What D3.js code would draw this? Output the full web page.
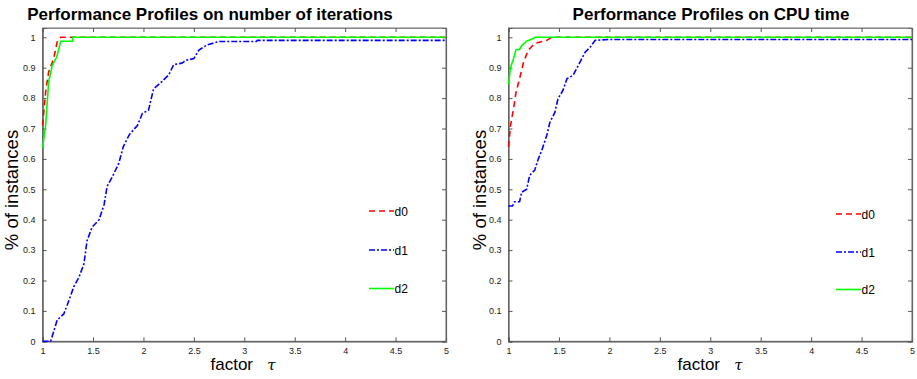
<!DOCTYPE html>
<html><head><meta charset="utf-8">
<script src="https://cdn.jsdelivr.net/npm/d3@7"></script>
<style>body{margin:0;background:#fff}svg{display:block}</style>
</head><body>
<svg id="c" width="917" height="379"></svg>
<script>
const titles = ["Performance Profiles on number of iterations", "Performance Profiles on CPU time"];
const seriesNames = ["d0", "d1", "d2"];
const seriesColors = ["#ff0000", "#0000ff", "#00ff00"];
const xTicks = [1, 1.5, 2, 2.5, 3, 3.5, 4, 4.5, 5];
const yTicks = [0, 0.1, 0.2, 0.3, 0.4, 0.5, 0.6, 0.7, 0.8, 0.9, 1];

// Left panel (iterations)
const iterD0 = [[1,0.71],[1.03,0.82],[1.06,0.886],[1.11,0.93],[1.145,0.985],[1.18,1.0],[5,1.0]];
const iterD1 = [[1,0],[1.08,0],[1.145,0.07],[1.21,0.09],[1.245,0.12],[1.31,0.18],[1.36,0.21],[1.41,0.255],[1.44,0.33],[1.49,0.375],[1.56,0.40],[1.61,0.45],[1.64,0.51],[1.69,0.54],[1.755,0.585],[1.80,0.64],[1.86,0.68],[1.94,0.71],[1.99,0.75],[2.05,0.76],[2.10,0.83],[2.185,0.855],[2.25,0.876],[2.30,0.91],[2.38,0.915],[2.43,0.925],[2.50,0.93],[2.55,0.958],[2.63,0.975],[2.75,0.986],[3.12,0.986],[3.13,0.99],[5,0.99]];
const iterD2 = [[1,0.635],[1.03,0.71],[1.06,0.853],[1.096,0.908],[1.14,0.935],[1.18,0.987],[1.30,0.987],[1.30,1.0],[5,1.0]];

// Right panel (CPU time)
const cpuD0 = [[1,0.64],[1.02,0.71],[1.05,0.765],[1.075,0.82],[1.11,0.864],[1.15,0.919],[1.195,0.957],[1.26,0.98],[1.38,0.99],[1.43,1.0],[5,1.0]];
const cpuD1 = [[1,0.445],[1.04,0.445],[1.06,0.459],[1.11,0.459],[1.13,0.49],[1.18,0.50],[1.21,0.546],[1.26,0.563],[1.29,0.595],[1.33,0.628],[1.38,0.678],[1.41,0.72],[1.46,0.753],[1.49,0.797],[1.54,0.826],[1.58,0.864],[1.64,0.875],[1.71,0.919],[1.76,0.951],[1.81,0.968],[1.86,0.99],[2.0,0.993],[5,0.993]];
const cpuD2 = [[1,0.845],[1.02,0.90],[1.05,0.93],[1.075,0.96],[1.11,0.96],[1.13,0.972],[1.18,0.987],[1.245,0.996],[1.26,1.0],[5,1.0]];

const panels = [
  {title: titles[0], series: [iterD0, iterD1, iterD2], x0: 42.6, x1: 446, legX: 369, legY: [211, 250, 288.5], titleX: 210, xlabX: 243, ylabX: 12},
  {title: titles[1], series: [cpuD0, cpuD1, cpuD2], x0: 508.5, x1: 912, legX: 836, legY: [214, 252, 289.5], titleX: 711, xlabX: 710, ylabX: 480}
];
const dashes = ["6,4", "6,2,2,2", null];

const svg = d3.select("#c");
const yTop = 28, yBottom = 341.3, y1px = 37.3;

panels.forEach(p => {
  const x = d3.scaleLinear().domain([1, 5]).range([p.x0, p.x1]);
  const yMax = 1 + (y1px - yTop) / (yBottom - y1px);
  const y = d3.scaleLinear().domain([0, yMax]).range([yBottom, yTop]);
  const g = svg.append("g");

  g.append("rect").attr("x", p.x0).attr("y", yTop).attr("width", p.x1 - p.x0).attr("height", yBottom - yTop)
    .attr("fill", "none").attr("stroke", "#777").attr("stroke-width", 1);

  const xb = g.append("g").attr("transform", `translate(0,${yBottom})`)
    .call(d3.axisBottom(x).tickValues(xTicks).tickSize(-4).tickPadding(6).tickFormat(d3.format("")));
  const xt = g.append("g").attr("transform", `translate(0,${yTop})`)
    .call(d3.axisTop(x).tickValues(xTicks).tickSize(-4).tickFormat(""));
  const yl = g.append("g").attr("transform", `translate(${p.x0},0)`)
    .call(d3.axisLeft(y).tickValues(yTicks).tickSize(-4).tickPadding(7).tickFormat(d3.format("")));
  const yr = g.append("g").attr("transform", `translate(${p.x1},0)`)
    .call(d3.axisRight(y).tickValues(yTicks).tickSize(-4).tickFormat(""));
  [xb, xt, yl, yr].forEach(a => {
    a.select(".domain").attr("stroke", "#555").attr("stroke-width", 1.2);
    a.selectAll(".tick line").attr("stroke", "#555");
    a.selectAll("text").attr("font-family", "Liberation Sans, Arial, sans-serif").attr("font-size", 9).attr("fill", "#222");
  });
  xt.select(".domain").attr("stroke", "#888");
  yr.select(".domain").attr("stroke", "#666");

  const line = d3.line().x(d => x(d[0])).y(d => y(d[1]));
  [1, 0, 2].forEach(i => {
    g.append("path").datum(p.series[i]).attr("d", line)
      .attr("fill", "none").attr("stroke", seriesColors[i]).attr("stroke-width", 1.6)
      .attr("stroke-dasharray", dashes[i]);
  });

  seriesNames.forEach((n, i) => {
    g.append("line").attr("x1", p.legX).attr("x2", p.legX + 25).attr("y1", p.legY[i]).attr("y2", p.legY[i])
      .attr("stroke", seriesColors[i]).attr("stroke-width", 1.6).attr("stroke-dasharray", dashes[i]);
    g.append("text").attr("x", p.legX + 25.5).attr("y", p.legY[i] + 4.5).text(n)
      .attr("font-family", "Liberation Sans, Arial, sans-serif").attr("font-size", 12).attr("fill", "#000");
  });

  g.append("text").attr("x", p.titleX).attr("y", 20).attr("text-anchor", "middle")
    .attr("font-family", "Liberation Sans, Arial, sans-serif").attr("font-weight", "bold").attr("font-size", 17)
    .text(p.title);

  const xl = g.append("text").attr("x", p.xlabX).attr("y", 370).attr("text-anchor", "middle")
    .attr("font-family", "Liberation Sans, Arial, sans-serif").attr("font-size", 17);
  xl.append("tspan").text("factor\u00a0\u00a0\u00a0");
  xl.append("tspan").attr("font-family", "DejaVu Serif, serif").attr("font-style", "italic").attr("font-size", 15).text("τ");

  g.append("text").attr("transform", `translate(${p.ylabX},190) rotate(-90)`)
    .attr("dy", "0.35em").attr("text-anchor", "middle")
    .attr("font-family", "Liberation Sans, Arial, sans-serif").attr("font-size", 18.5)
    .text("% of instances");
});
</script>
</body></html>
